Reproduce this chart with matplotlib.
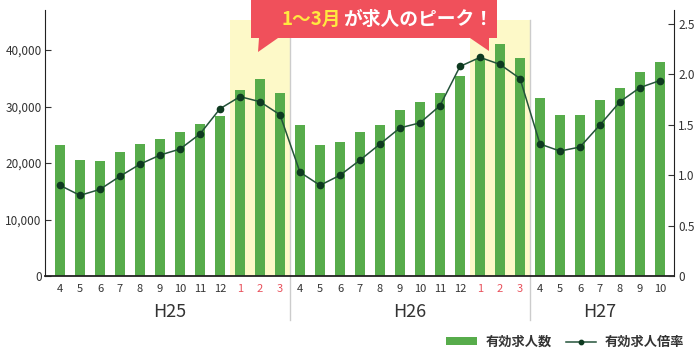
import matplotlib
matplotlib.use('Agg')
import matplotlib.pyplot as plt
from matplotlib.patches import Polygon

plt.rcParams['font.family'] = ['Noto Sans CJK JP', 'DejaVu Sans']

# 月ラベル (H25.4 ～ H27.10)
months = ['4', '5', '6', '7', '8', '9', '10', '11', '12', '1', '2', '3',
          '4', '5', '6', '7', '8', '9', '10', '11', '12', '1', '2', '3',
          '4', '5', '6', '7', '8', '9', '10']
years = ['H25', 'H26', 'H27']
year_counts = [12, 12, 7]

# 有効求人数
job_offers = [23200, 20500, 20350, 21950, 23350, 24250, 25500, 26900, 28350, 32950, 34900, 32400,
              26750, 23200, 23700, 25500, 26750, 29400, 30800, 32400, 35400, 38400, 41050, 38600,
              31500, 28500, 28500, 31150, 33300, 36100, 37900]
# 有効求人倍率
job_ratio = [0.90, 0.80, 0.86, 0.99, 1.11, 1.20, 1.26, 1.41, 1.66, 1.78, 1.73, 1.60,
             1.03, 0.90, 1.00, 1.15, 1.31, 1.47, 1.52, 1.69, 2.08, 2.17, 2.10, 1.96,
             1.31, 1.24, 1.28, 1.50, 1.73, 1.87, 1.94]

W, H = 695, 354


def px(x, y):
    # 画像のピクセル座標 -> figure座標
    return (x / W, 1 - y / H)


fig = plt.figure(figsize=(W / 100, H / 100), dpi=100, facecolor='white')
ax = fig.add_axes([45 / W, 1 - 276 / H, (674 - 45) / W, 266 / H])
ax2 = ax.twinx()

x = list(range(len(months)))

# 1～3月のハイライト
for i, m in enumerate(months):
    if m == '1':
        ax.axvspan(i - 0.5, i + 2.5, ymin=0, ymax=(276 - 20) / 266, color='#fdf9c8', zorder=0, lw=0)

# 年度の区切り線
pos = 0
for c in year_counts[:-1]:
    pos += c
    ax.axvline(pos - 0.5, ymin=-0.165, ymax=(276 - 20) / 266, color='#cccccc', lw=1, clip_on=False, zorder=1)

bars = ax.bar(x, job_offers, width=0.5, color='#57ac4b', zorder=2, label='有効求人数')
line, = ax2.plot(x, job_ratio, '-', color='#24533a', lw=1.1, marker='o', markersize=4.5,
                 markerfacecolor='#0e3a20', markeredgecolor='#0e3a20', label='有効求人倍率')

ax.set_xlim(-0.75, 30.7)
ax.set_ylim(0, 47080)
ax2.set_ylim(0, 2.64)

ax.set_yticks([0, 10000, 20000, 30000, 40000])
ax.set_yticklabels(['0', '10,000', '20,000', '30,000', '40,000'])
ax2.set_yticks([0, 0.5, 1.0, 1.5, 2.0, 2.5])
ax2.set_yticklabels(['0', '0.5', '1.0', '1.5', '2.0', '2.5'])

ax.set_xticks(x)
ax.set_xticklabels(months)
for lab in ax.get_xticklabels():
    lab.set_color('#e8505b' if lab.get_text() in ('1', '2', '3') else '#333333')

ax.tick_params(axis='x', length=0, pad=6, labelsize=8)
ax.tick_params(axis='y', direction='in', length=4, pad=2.5, labelsize=8.5, colors='#333333')
ax2.tick_params(axis='y', direction='in', length=4, pad=3, labelsize=8.5, colors='#333333')

for a in (ax, ax2):
    a.spines['top'].set_visible(False)
ax.spines['right'].set_visible(False)
ax2.spines['left'].set_visible(False)
ax2.spines['bottom'].set_visible(False)
ax.spines['left'].set_color('#222222')
ax.spines['bottom'].set_color('#222222')
ax.spines['bottom'].set_linewidth(1.3)
ax2.spines['right'].set_color('#222222')

# 年度ラベル
start = 0
for y_label, c in zip(years, year_counts):
    center = start + (c - 1) / 2
    ax.text(center, -0.135, y_label, transform=ax.get_xaxis_transform(), ha='center', va='center',
            fontsize=13, color='#333333')
    start += c

# 吹き出し
box = Polygon([px(251, 0), px(497, 0), px(497, 38), px(489, 38), px(489, 51), px(470, 38),
               px(278, 38), px(258, 52), px(259, 38), px(251, 38)],
              closed=True, transform=fig.transFigure, facecolor='#f0505b', edgecolor='none', zorder=10)
fig.patches.append(box)
fig.text(*px(341, 19), '1～3月', ha='right', va='center', fontsize=13.5, fontweight='bold',
         color='#ffe840', zorder=11)
fig.text(*px(343, 19), 'が求人のピーク！', ha='left', va='center', fontsize=13.5, fontweight='bold',
         color='white', zorder=11)

# 凡例
fig.legend([bars, line], ['有効求人数', '有効求人倍率'], loc='center right',
           bbox_to_anchor=px(691, 342), ncol=2, frameon=False,
           prop={'weight': 'bold', 'size': 9.5}, handlelength=2.3, handleheight=0.55,
           handletextpad=0.65, columnspacing=1.1, borderpad=0, labelcolor='#333333',
           markerscale=0.7)

fig.savefig('out.png', dpi=100, facecolor='white')
